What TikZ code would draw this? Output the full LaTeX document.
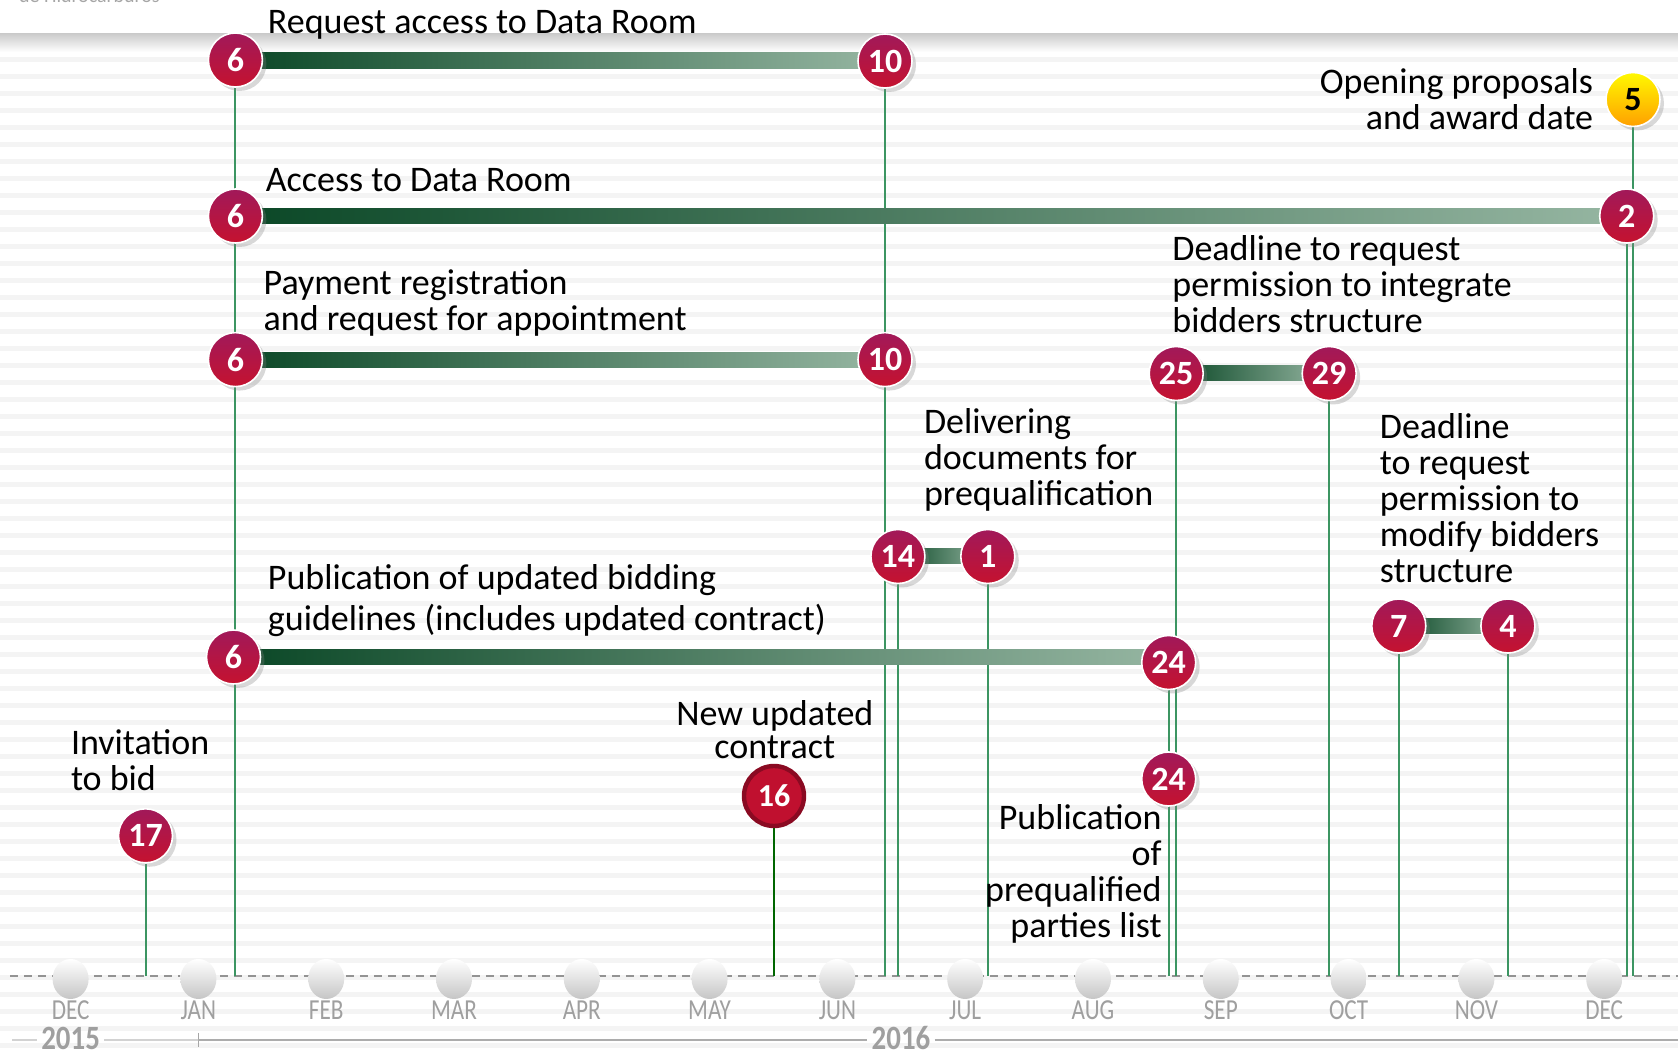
\documentclass[tikz,border=0pt]{standalone}
\usepackage{fontspec}
\setmainfont{Carlito}
\usetikzlibrary{shadows}

\definecolor{daytop}{HTML}{A1195A}
\definecolor{daybot}{HTML}{C5122F}
\definecolor{bardark}{HTML}{0A4726}
\definecolor{barlight}{HTML}{96B6A2}
\definecolor{stemgreen}{HTML}{3C9562}
\definecolor{contractred}{HTML}{C0102F}
\definecolor{contractring}{HTML}{8A0A22}

\pgfdeclarelayer{back}
\pgfsetlayers{back,main}

\tikzset{
  day/.style={circle, draw=white, line width=0.8pt, top color=daytop, bottom color=daybot,
    text=white, font=\bfseries\fontsize{17}{17}\selectfont, minimum size=27pt, inner sep=0pt,
    drop shadow={shadow xshift=2pt, shadow yshift=-2pt, opacity=0.3}},
  golden/.style={day, top color=yellow!95!orange, bottom color=orange!75!yellow, text=black},
  contract/.style={circle, draw=contractring, line width=2.2pt, fill=contractred, text=white,
    font=\bfseries\fontsize{16}{16}\selectfont, minimum size=30pt, inner sep=0pt},
  lbl/.style={font=\fontsize{18}{18}\selectfont, inner sep=0pt, align=left},
  month/.style={font=\fontsize{14.5}{14.5}\selectfont, text=gray!75, inner sep=0pt},
  year/.style={font=\bfseries\fontsize{17}{17}\selectfont, text=gray!75, inner sep=0pt},
  stem/.style={stemgreen, line width=1pt},
  bar/.style={left color=bardark, right color=barlight},
  stripe/.style={gray!9, line width=2.5pt},
  bump/.style={top color=white, bottom color=gray!45},
}

\begin{document}
\begin{tikzpicture}[x=0.5pt, y=-0.5pt]
\useasboundingbox (0,0) rectangle (1678,1052);

% background stripes
\begin{pgfonlayer}{back}
  \fill[white] (0,0) rectangle (1678,1052);
  \foreach \y in {60,77,...,1052} \draw[stripe] (0,\y) -- (1678,\y);
  \shade[top color=gray!40, bottom color=white] (0,34) rectangle (1678,52);
\end{pgfonlayer}
\node[font=\fontsize{10}{10}\selectfont, text=gray!70, anchor=base west] (src) at (12,3) {de Hidrocarburos};

% dates
\node[day] (RQs) at (235.4,60) {6};
\node[day] (RQe) at (885,61) {10};
\node[golden] (OPN) at (1633,99.5) {5};
\node[day] (ACs) at (235.4,216) {6};
\node[day] (ACe) at (1626.7,216) {2};
\node[day] (PYs) at (235.4,359.6) {6};
\node[day] (PYe) at (885,359.6) {10};
\node[day] (DIs) at (1176.2,373.5) {25};
\node[day] (DIe) at (1329.2,373.5) {29};
\node[day] (DLs) at (897.9,556.5) {14};
\node[day] (DLe) at (987.8,556.5) {1};
\node[day] (DMs) at (1398.8,626) {7};
\node[day] (DMe) at (1507.9,626) {4};
\node[day] (PBs) at (233.5,657) {6};
\node[day] (PBe) at (1168.7,662.5) {24};
\node[day] (PQ) at (1168.7,779) {24};
\node[day] (INV) at (145.5,835.8) {17};
\node[contract] (CON) at (774,796) {16};

% axis
\coordinate (axisL) at (10,976);
\coordinate (axisR) at (1678,976);
\begin{pgfonlayer}{back}
  \draw[gray!85, line width=1pt, dash pattern=on 4pt off 3pt] (axisL) -- (axisR);
  \foreach \i in {0,...,12} \shade[bump] ({70.6+127.8*\i},979) ellipse (9pt and 10pt);
  \draw[stem] (RQs) -- (RQs |- axisL);
  \draw[stem] (RQe) -- (RQe |- axisL);
  \draw[stem] (OPN) -- (OPN |- axisL);
  \draw[stem] (ACe) -- (ACe |- axisL);
  \draw[stem] (DIs) -- (DIs |- axisL);
  \draw[stem] (DIe) -- (DIe |- axisL);
  \draw[stem] (DLs) -- (DLs |- axisL);
  \draw[stem] (DLe) -- (DLe |- axisL);
  \draw[stem] (DMs) -- (DMs |- axisL);
  \draw[stem] (DMe) -- (DMe |- axisL);
  \draw[stem] (PBe) -- (PBe |- axisL);
  \draw[stem] (INV) -- (INV |- axisL);
  \draw[stem, green!40!black, line width=1.3pt] (CON) -- (CON |- axisL);
  % bars
  \path (PBs.center -| PBe.center) coordinate (PBx);
  \shade[bar] ([yshift=3.75pt]RQs.center) rectangle ([yshift=-3.75pt]RQe.center);
  \shade[bar] ([yshift=3.75pt]ACs.center) rectangle ([yshift=-3.75pt]ACe.center);
  \shade[bar] ([yshift=3.75pt]PYs.center) rectangle ([yshift=-3.75pt]PYe.center);
  \shade[bar] ([yshift=3.75pt]DIs.center) rectangle ([yshift=-3.75pt]DIe.center);
  \shade[bar] ([yshift=3.75pt]DLs.center) rectangle ([yshift=-3.75pt]DLe.center);
  \shade[bar] ([yshift=3.75pt]DMs.center) rectangle ([yshift=-3.75pt]DMe.center);
  \shade[bar] ([yshift=3.75pt]PBs.center) rectangle ([yshift=-3.75pt]PBx);
\end{pgfonlayer}

% labels (anchored at the baseline of their last line)
\node[lbl, anchor=base west] (tRQ) at (267.5,33.5) {Request access to Data Room};
\node[lbl, anchor=base east, align=right] (tOPN) at (1593.5,130) {Opening proposals\\and award date};
\node[lbl, anchor=base west] (tAC) at (265.4,192) {Access to Data Room};
\node[lbl, anchor=base west] (tPY) at (263.3,331) {Payment registration\\and request for appointment};
\node[lbl, anchor=base west] (tDI) at (1172,333) {Deadline to request\\permission to integrate\\bidders structure};
\node[lbl, anchor=base west] (tDL) at (923.6,505.5) {Delivering\\documents for\\prequalification};
\node[lbl, anchor=base west] (tDM) at (1379.5,582.6) {Deadline\\to request\\permission to\\modify bidders\\structure};
\node[lbl, anchor=base west, font=\fontsize{18}{20.4}\selectfont] (tPB) at (267.5,630.7) {Publication of updated bidding\\guidelines (includes updated contract)};
\node[lbl, anchor=base west] (tINV) at (70.6,791) {Invitation\\to bid};
\node[lbl, anchor=base, align=center, font=\fontsize{18}{16.5}\selectfont] (tCON) at (774.8,759) {New updated\\contract};
\node[lbl, anchor=base east, align=right] (tPQ) at (1162,938) {Publication\\of\\prequalified\\parties list};

% months
\foreach \m [count=\i from 0] in {DEC,JAN,FEB,MAR,APR,MAY,JUN,JUL,AUG,SEP,OCT,NOV,DEC}
  \node[month] (m\i) at ({70.6+127.8*\i},1010) {\scalebox{0.8}[1]{\m}};

% years
\node[year] (y15) at (70.6,1038) {\scalebox{0.85}[1]{2015}};
\node[year] (y16) at (901,1038) {\scalebox{0.85}[1]{2016}};
\coordinate (yL) at (12,1040);
\coordinate (yT) at (198.4,1040);
\coordinate (yR) at (1678,1040);
\draw[gray!35, line width=1pt] (yL) -- ([xshift=-2pt]y15.west |- yL);
\draw[gray!35, line width=1pt] ([xshift=2pt]y15.east |- yL) -- (yT);
\draw[gray!70, line width=0.7pt] ([yshift=3.5pt]yT) -- ([yshift=-3.5pt]yT);
\draw[gray!65, line width=1.2pt] (yT) -- ([xshift=-2pt]y16.west |- yL);
\draw[gray!65, line width=1.2pt] ([xshift=2pt]y16.east |- yL) -- (yR);
\end{tikzpicture}
\end{document}
